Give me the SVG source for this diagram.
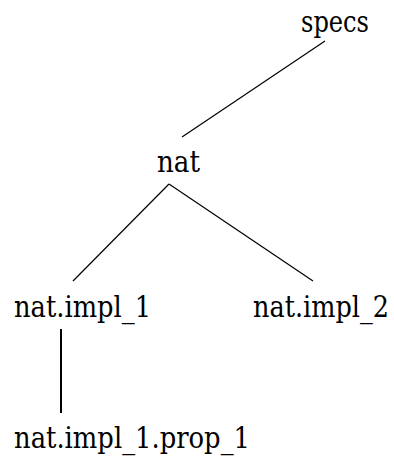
<svg xmlns="http://www.w3.org/2000/svg" width="394" height="468" viewBox="0 0 394 468">
  <style>
    text { font-size: 29px; fill: #000; }
    .edge { stroke: #000; stroke-width: 1.2; fill: none; }
    .edge.thick { stroke-width: 2; }
  </style>
  <rect width="394" height="468" fill="#fff"/>
  <g id="connectors">
    <line class="edge" x1="325" y1="41" x2="182" y2="137"/>
    <line class="edge" x1="169" y1="184" x2="73" y2="281"/>
    <line class="edge" x1="169" y1="184" x2="313" y2="281"/>
    <line class="edge thick" x1="61" y1="329" x2="61" y2="413"/>
  </g>
  <g id="labels" font-family="'DejaVu Serif', serif">
    <g id="specs">
      <text x="301" y="32" textLength="68" lengthAdjust="spacingAndGlyphs">specs</text>
    </g>
    <g id="nat">
      <text x="157" y="172" textLength="43" lengthAdjust="spacingAndGlyphs">nat</text>
    </g>
    <g id="nat_impl_1">
      <text x="14" y="317" textLength="137" lengthAdjust="spacingAndGlyphs">nat.impl_1</text>
    </g>
    <g id="nat_impl_2">
      <text x="253" y="317" textLength="136" lengthAdjust="spacingAndGlyphs">nat.impl_2</text>
    </g>
    <g id="nat_impl_1_prop_1">
      <text x="14" y="448" textLength="236" lengthAdjust="spacingAndGlyphs">nat.impl_1.prop_1</text>
    </g>
  </g>
</svg>
